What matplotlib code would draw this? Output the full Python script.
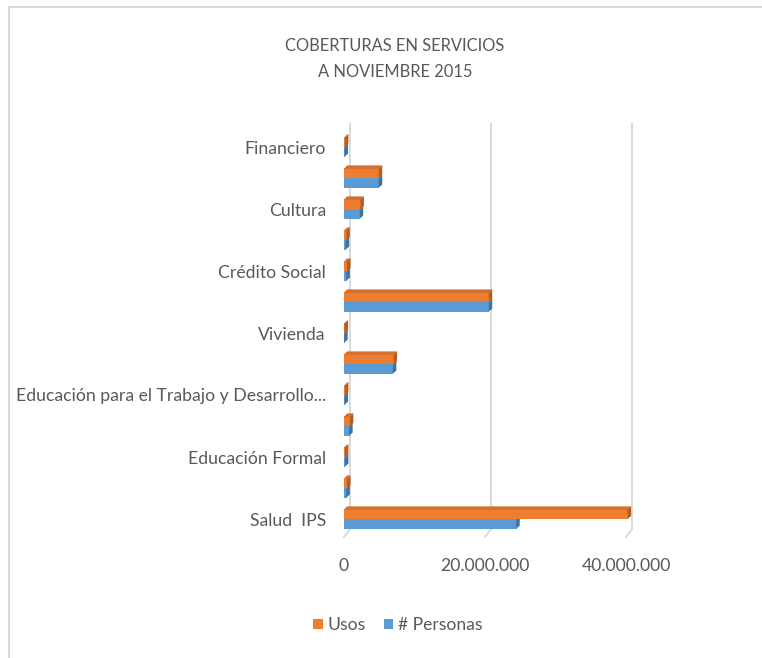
import matplotlib
matplotlib.use("Agg")
import matplotlib.pyplot as plt
from matplotlib.lines import Line2D
from matplotlib.patches import Polygon
from matplotlib.transforms import IdentityTransform

# ---------------- data (bottom to top) ----------------
categories = ["Salud  IPS", "", "Educación Formal", "",
              "Educación para el Trabajo y Desarrollo...", "", "Vivienda", "",
              "Crédito Social", "", "Cultura", "", "Financiero"]
usos = [40.3e6, 0.5e6, 0.2e6, 0.9e6, 0.2e6, 7.1e6, 0.15e6, 20.6e6,
        0.5e6, 0.4e6, 2.4e6, 5.0e6, 0.2e6]
personas = [24.5e6, 0.4e6, 0.2e6, 0.8e6, 0.15e6, 7.0e6, 0.1e6, 20.6e6,
            0.4e6, 0.3e6, 2.3e6, 5.0e6, 0.15e6]
xticks = [0, 20e6, 40e6]
xtick_labels = ["0", "20.000.000", "40.000.000"]
series_names = ["Usos", "# Personas"]
title = "COBERTURAS EN SERVICIOS\nA NOVIEMBRE 2015"

# ---------------- style ----------------
FONT = ["Lato", "DejaVu Sans"]
plt.rcParams["font.family"] = FONT
TXT = "#595959"
ORANGE, ORANGE_D, ORANGE_T = "#ED7D31", "#B35E24", "#D56F2A"
BLUE, BLUE_D = "#5B9BD5", "#41719C"
GRID = "#D9D9D9"

W, H = 762, 658
fig = plt.figure(figsize=(W / 100, H / 100), dpi=100)
fig.patch.set_facecolor("white")

# front plane of plot area in pixels (image coords)
x0_px, x1_px = 344, 626
ytop_px, ybot_px = 132, 537
row_px = 31.0
first_row_px = 519
ax = fig.add_axes([x0_px / W, (H - ybot_px) / H, (x1_px - x0_px) / W, (ybot_px - ytop_px) / H])
ax.patch.set_visible(False)
ax.set_xlim(0, 40e6)
ylo = -(ybot_px - first_row_px) / row_px
yhi = ylo + (ybot_px - ytop_px) / row_px
ax.set_ylim(ylo, yhi)
for s in ax.spines.values():
    s.set_visible(False)

n = len(categories)
ypos = list(range(n))
bh = 0.31
b_u = ax.barh([y + bh / 2 for y in ypos], usos, height=bh, color=ORANGE, zorder=3,
              label=series_names[0], clip_on=False)
b_p = ax.barh([y - bh / 2 for y in ypos], personas, height=bh, color=BLUE, zorder=2,
              label=series_names[1], clip_on=False)

# 3D faces of the bars
d = 3
fig.canvas.draw()
for bars, side, top, z in [(b_p, BLUE_D, BLUE, 2.5), (b_u, ORANGE_D, ORANGE_T, 3.5)]:
    for r in bars:
        (xa, ya), (xb, yb) = ax.transData.transform([(r.get_x(), r.get_y()),
                                                     (r.get_x() + r.get_width(), r.get_y() + r.get_height())])
        ax.add_patch(Polygon([(xb - 0.5, ya), (xb - 0.5, yb), (xb + d, yb + d), (xb + d, ya + d)],
                             closed=True, facecolor=side, edgecolor="none",
                             transform=IdentityTransform(), clip_on=False, zorder=z))
        ax.add_patch(Polygon([(xa, yb - 0.5), (xb, yb - 0.5), (xb + d, yb + d), (xa + d, yb + d)],
                             closed=True, facecolor=top, edgecolor="none",
                             transform=IdentityTransform(), clip_on=False, zorder=z))

# gridlines on back plane + floor diagonals
gdx, gdy = 6, 8
for xv in xticks:
    px = ax.transData.transform((xv, 0))[0]
    fig.add_artist(Line2D([px + gdx, px + gdx], [H - 124, H - (ybot_px - gdy)], color=GRID, lw=1.4,
                          transform=IdentityTransform(), zorder=-1))
    fig.add_artist(Line2D([px, px + gdx], [H - ybot_px, H - (ybot_px - gdy)], color=GRID, lw=1.4,
                          transform=IdentityTransform(), zorder=-1))

# axis labels
ax.set_xticks([])
ax.set_yticks(ypos)
ax.set_yticklabels(categories)
ax.tick_params(axis="y", length=0, pad=13, labelsize=12.7, labelcolor=TXT)
for xv, lab in zip(xticks, xtick_labels):
    px = ax.transData.transform((xv, 0))[0]
    fig.text(px / W, (H - 566) / H, lab, ha="center", va="center", fontsize=12.7, color=TXT)

fig.text(395 / W, (H - 59) / H, title, ha="center", va="center", fontsize=11.9,
         color=TXT, linespacing=1.8)

leg = fig.legend(handles=[b_u, b_p], labels=series_names, loc="center",
                 bbox_to_anchor=(398 / W, (H - 625) / H), ncol=2, frameon=False,
                 prop={"size": 12.6},
                 handlelength=0.55, handleheight=0.55, handletextpad=0.3,
                 columnspacing=1.0, labelcolor=TXT)

# chart border
fig.add_artist(Line2D([9, 9], [0, H - 7], color=GRID, lw=1.4, transform=IdentityTransform()))
fig.add_artist(Line2D([9, W], [H - 7, H - 7], color=GRID, lw=1.4, transform=IdentityTransform()))

fig.savefig("out.png", dpi=100)
